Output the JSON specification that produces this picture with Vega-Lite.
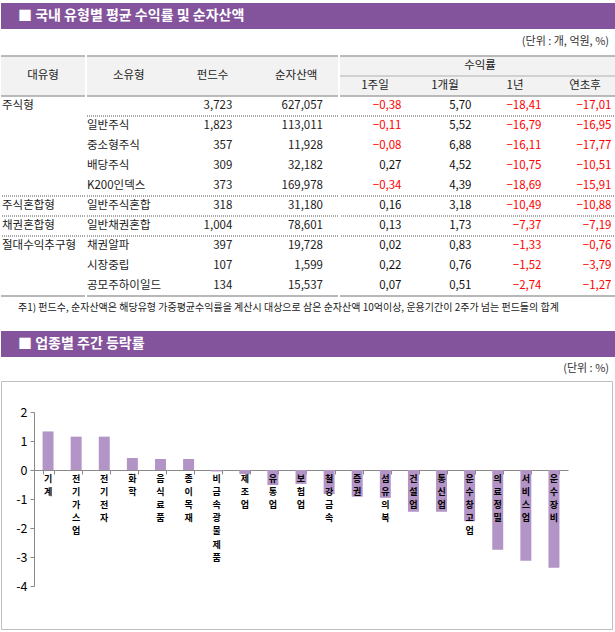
{
  "$schema": "https://vega.github.io/schema/vega-lite/v6.json",
  "background": "#ffffff",
  "padding": {"top": 3, "left": 0, "right": 0, "bottom": 0},
  "spacing": 0,
  "config": {
    "view": {"stroke": null},
    "font": "Noto Sans CJK KR",
    "text": {"font": "Noto Sans CJK KR", "fontSize": 11.5, "color": "#222222"},
    "axis": {"labelFont": "Noto Sans CJK KR"}
  },
  "datasets": {
    "table": [
      {"row": "r1", "대유형": "주식형", "소유형": "", "펀드수": 3723, "순자산액": 627057, "1주일": -0.38, "1개월": 5.70, "1년": -18.41, "연초후": -17.01},
      {"row": "r2", "대유형": "", "소유형": "일반주식", "펀드수": 1823, "순자산액": 113011, "1주일": -0.11, "1개월": 5.52, "1년": -16.79, "연초후": -16.95},
      {"row": "r3", "대유형": "", "소유형": "중소형주식", "펀드수": 357, "순자산액": 11928, "1주일": -0.08, "1개월": 6.88, "1년": -16.11, "연초후": -17.77},
      {"row": "r4", "대유형": "", "소유형": "배당주식", "펀드수": 309, "순자산액": 32182, "1주일": 0.27, "1개월": 4.52, "1년": -10.75, "연초후": -10.51},
      {"row": "r5", "대유형": "", "소유형": "K200인덱스", "펀드수": 373, "순자산액": 169978, "1주일": -0.34, "1개월": 4.39, "1년": -18.69, "연초후": -15.91},
      {"row": "r6", "대유형": "주식혼합형", "소유형": "일반주식혼합", "펀드수": 318, "순자산액": 31180, "1주일": 0.16, "1개월": 3.18, "1년": -10.49, "연초후": -10.88},
      {"row": "r7", "대유형": "채권혼합형", "소유형": "일반채권혼합", "펀드수": 1004, "순자산액": 78601, "1주일": 0.13, "1개월": 1.73, "1년": -7.37, "연초후": -7.19},
      {"row": "r8", "대유형": "절대수익추구형", "소유형": "채권알파", "펀드수": 397, "순자산액": 19728, "1주일": 0.02, "1개월": 0.83, "1년": -1.33, "연초후": -0.76},
      {"row": "r9", "대유형": "", "소유형": "시장중립", "펀드수": 107, "순자산액": 1599, "1주일": 0.22, "1개월": 0.76, "1년": -1.52, "연초후": -3.79},
      {"row": "r10", "대유형": "", "소유형": "공모주하이일드", "펀드수": 134, "순자산액": 15537, "1주일": 0.07, "1개월": 0.51, "1년": -2.74, "연초후": -1.27}
    ],
    "headBg": [{"row": "h1"}, {"row": "h2"}],
    "sectors": [
      {"업종": "기 계", "등락률": 1.33},
      {"업종": "전기가스업", "등락률": 1.15},
      {"업종": "전기전자", "등락률": 1.15},
      {"업종": "화 학", "등락률": 0.41},
      {"업종": "음식료품", "등락률": 0.38},
      {"업종": "종이목재", "등락률": 0.38},
      {"업종": "비금속광물제품", "등락률": -0.05},
      {"업종": "제조업", "등락률": -0.14},
      {"업종": "유통업", "등락률": -0.52},
      {"업종": "보험업", "등락률": -0.48},
      {"업종": "철강금속", "등락률": -0.83},
      {"업종": "증 권", "등락률": -0.92},
      {"업종": "섬유의복", "등락률": -0.96},
      {"업종": "건설업", "등락률": -1.44},
      {"업종": "통신업", "등락률": -1.44},
      {"업종": "운수창고업", "등락률": -1.77},
      {"업종": "의료정밀", "등락률": -2.75},
      {"업종": "서비스업", "등락률": -3.13},
      {"업종": "운수장비", "등락률": -3.37}
    ]
  },
  "vconcat": [
    {
      "width": 615, "height": 26,
      "data": {"values": [{"heading": "■ 국내 유형별 평균 수익률 및 순자산액"}]},
      "encoding": {
        "x": {"field": "heading", "type": "nominal", "bandPosition": 0, "scale": {"type": "band", "paddingInner": 0, "paddingOuter": 0}, "axis": null}
      },
      "layer": [
        {"mark": {"type": "rect", "color": "#83539B"}},
        {"mark": {"type": "text", "align": "left", "baseline": "middle", "dx": 17, "color": "#ffffff", "fontWeight": "bold", "fontSize": 14},
         "encoding": {"text": {"field": "heading"}}}
      ]
    },
    {
      "width": 615, "height": 25.5,
      "data": {"values": [{"unit": "(단위 : 개, 억원, %)"}]},
      "mark": {"type": "text", "align": "right", "baseline": "middle", "dx": -7, "fontSize": 11, "color": "#333333"},
      "encoding": {
        "x": {"field": "unit", "type": "nominal", "bandPosition": 1, "scale": {"type": "band", "paddingInner": 0, "paddingOuter": 0}, "axis": null},
        "text": {"field": "unit"}
      }
    },
    {
      "hconcat": [
        {
          "width": 84, "height": 240,
          "layer": [
            {"data": {"name": "headBg"},
             "mark": {"type": "rect", "color": "#f2f2f2"},
             "encoding": {"y": {"field": "row", "type": "nominal", "scale": {"type": "band", "domain": ["h1", "h2", "r1", "r2", "r3", "r4", "r5", "r6", "r7", "r8", "r9", "r10"], "paddingInner": 0, "paddingOuter": 0}, "axis": null}}},
            {"data": {"values": [{"row": "r5"}, {"row": "r6"}, {"row": "r7"}]},
             "mark": {"type": "rule", "color": "#555555", "strokeDash": [1, 1], "strokeWidth": 1},
             "encoding": {"y": {"field": "row", "type": "nominal", "bandPosition": 1, "axis": null}}},
            {"data": {"values": [{"row": "h1"}, {"row": "r1"}]}, "mark": {"type": "rule", "color": "#a4a4a4", "strokeWidth": 1.5}, "encoding": {"y": {"field": "row", "type": "nominal", "bandPosition": 0, "axis": null}}},
            {"data": {"values": [{"row": "r10"}]}, "mark": {"type": "rule", "color": "#a0a0a0", "strokeWidth": 1.5}, "encoding": {"y": {"field": "row", "type": "nominal", "bandPosition": 1, "axis": null}}},
            {"data": {"values": [{"t": "대유형", "row": "h2"}]},
             "mark": {"type": "text", "color": "#222222"},
             "encoding": {"y": {"field": "row", "type": "nominal", "bandPosition": 0, "axis": null}, "text": {"field": "t"}}},
            {"data": {"name": "table"},
             "transform": [{"fold": ["대유형"], "as": ["col", "v"]}],
             "mark": {"type": "text", "align": "left", "dx": 1},
             "encoding": {
               "x": {"field": "col", "type": "nominal", "bandPosition": 0, "scale": {"type": "band", "domain": ["대유형"], "paddingInner": 0, "paddingOuter": 0}, "axis": null},
               "y": {"field": "row", "type": "nominal", "axis": null},
               "text": {"field": "v"}
             }}
          ]
        },
        {
          "width": 251, "height": 240,
          "layer": [
            {"data": {"name": "headBg"},
             "mark": {"type": "rect", "color": "#f2f2f2"},
             "encoding": {"y": {"field": "row", "type": "nominal", "scale": {"type": "band", "domain": ["h1", "h2", "r1", "r2", "r3", "r4", "r5", "r6", "r7", "r8", "r9", "r10"], "paddingInner": 0, "paddingOuter": 0}, "axis": null}}},
            {"data": {"values": [{"row": "r1"}, {"row": "r5"}, {"row": "r6"}, {"row": "r7"}]},
             "mark": {"type": "rule", "color": "#555555", "strokeDash": [1, 1], "strokeWidth": 1},
             "encoding": {"y": {"field": "row", "type": "nominal", "bandPosition": 1, "axis": null}}},
            {"data": {"values": [{"row": "h1"}, {"row": "r1"}]}, "mark": {"type": "rule", "color": "#a4a4a4", "strokeWidth": 1.5}, "encoding": {"y": {"field": "row", "type": "nominal", "bandPosition": 0, "axis": null}}},
            {"data": {"values": [{"row": "r10"}]}, "mark": {"type": "rule", "color": "#a0a0a0", "strokeWidth": 1.5}, "encoding": {"y": {"field": "row", "type": "nominal", "bandPosition": 1, "axis": null}}},
            {"data": {"values": [{"col": "소유형", "row": "h2"}, {"col": "펀드수", "row": "h2"}, {"col": "순자산액", "row": "h2"}]},
             "mark": {"type": "text", "color": "#222222"},
             "encoding": {
               "x": {"field": "col", "type": "nominal", "scale": {"type": "band", "domain": ["소유형", "펀드수", "순자산액"], "paddingInner": 0, "paddingOuter": 0}, "axis": null},
               "y": {"field": "row", "type": "nominal", "bandPosition": 0, "axis": null},
               "text": {"field": "col"}
             }},
            {"data": {"name": "table"},
             "transform": [{"fold": ["소유형"], "as": ["col", "v"]}],
             "mark": {"type": "text", "align": "left", "dx": 0},
             "encoding": {
               "x": {"field": "col", "type": "nominal", "bandPosition": 0, "axis": null},
               "y": {"field": "row", "type": "nominal", "axis": null},
               "text": {"field": "v"}
             }},
            {"data": {"name": "table"},
             "transform": [{"fold": ["펀드수"], "as": ["col", "v"]}],
             "mark": {"type": "text", "align": "right", "dx": -22},
             "encoding": {
               "x": {"field": "col", "type": "nominal", "bandPosition": 1, "axis": null},
               "y": {"field": "row", "type": "nominal", "axis": null},
               "text": {"field": "v", "type": "quantitative", "format": ","}
             }},
            {"data": {"name": "table"},
             "transform": [{"fold": ["순자산액"], "as": ["col", "v"]}],
             "mark": {"type": "text", "align": "right", "dx": -15},
             "encoding": {
               "x": {"field": "col", "type": "nominal", "bandPosition": 1, "axis": null},
               "y": {"field": "row", "type": "nominal", "axis": null},
               "text": {"field": "v", "type": "quantitative", "format": ","}
             }}
          ]
        },
        {
          "width": 280, "height": 240,
          "layer": [
            {"data": {"name": "headBg"},
             "mark": {"type": "rect", "color": "#f2f2f2"},
             "encoding": {"y": {"field": "row", "type": "nominal", "scale": {"type": "band", "domain": ["h1", "h2", "r1", "r2", "r3", "r4", "r5", "r6", "r7", "r8", "r9", "r10"], "paddingInner": 0, "paddingOuter": 0}, "axis": null}}},
            {"data": {"values": [{"row": "r1"}, {"row": "r5"}, {"row": "r6"}, {"row": "r7"}]},
             "mark": {"type": "rule", "color": "#555555", "strokeDash": [1, 1], "strokeWidth": 1},
             "encoding": {"y": {"field": "row", "type": "nominal", "bandPosition": 1, "axis": null}}},
            {"data": {"values": [{"row": "h1"}, {"row": "r1"}]}, "mark": {"type": "rule", "color": "#a4a4a4", "strokeWidth": 1.5}, "encoding": {"y": {"field": "row", "type": "nominal", "bandPosition": 0, "axis": null}}},
            {"data": {"values": [{"row": "h2"}]}, "mark": {"type": "rule", "color": "#b0b0b0", "strokeWidth": 1}, "encoding": {"y": {"field": "row", "type": "nominal", "bandPosition": 0, "axis": null}}},
            {"data": {"values": [{"row": "r10"}]}, "mark": {"type": "rule", "color": "#a0a0a0", "strokeWidth": 1.5}, "encoding": {"y": {"field": "row", "type": "nominal", "bandPosition": 1, "axis": null}}},
            {"data": {"values": [{"t": "수익률", "row": "h1"}]},
             "mark": {"type": "text", "color": "#222222"},
             "encoding": {"y": {"field": "row", "type": "nominal", "axis": null}, "text": {"field": "t"}}},
            {"data": {"values": [{"col": "1주일", "row": "h2"}, {"col": "1개월", "row": "h2"}, {"col": "1년", "row": "h2"}, {"col": "연초후", "row": "h2"}]},
             "mark": {"type": "text", "color": "#222222"},
             "encoding": {
               "x": {"field": "col", "type": "nominal", "scale": {"type": "band", "domain": ["1주일", "1개월", "1년", "연초후"], "paddingInner": 0, "paddingOuter": 0}, "axis": null},
               "y": {"field": "row", "type": "nominal", "axis": null},
               "text": {"field": "col"}
             }},
            {"data": {"name": "table"},
             "transform": [
               {"fold": ["1주일", "1개월", "1년", "연초후"], "as": ["col", "v"]},
               {"calculate": "replace(format(datum.v, '.2f'), '.', ',')", "as": "표시"}
             ],
             "mark": {"type": "text", "align": "right", "dx": -8.5},
             "encoding": {
               "x": {"field": "col", "type": "nominal", "bandPosition": 1, "axis": null},
               "y": {"field": "row", "type": "nominal", "axis": null},
               "text": {"field": "표시"},
               "color": {"condition": {"test": "datum.v < 0", "value": "#ff0000"}, "value": "#111111"}
             }}
          ]
        }
      ],
      "spacing": 0
    },
    {
      "width": 615, "height": 34,
      "data": {"values": [{"note": "주1) 펀드수, 순자산액은 해당유형 가중평균수익률을 계산시 대상으로 삼은 순자산액 10억이상, 운용기간이 2주가 넘는 펀드들의 합계"}]},
      "mark": {"type": "text", "align": "left", "baseline": "middle", "dx": 17, "fontSize": 10, "color": "#222222"},
      "encoding": {
        "x": {"field": "note", "type": "nominal", "bandPosition": 0, "scale": {"type": "band", "paddingInner": 0, "paddingOuter": 0}, "axis": null},
        "y": {"field": "note", "type": "nominal", "bandPosition": 0.32, "scale": {"type": "band", "paddingInner": 0, "paddingOuter": 0}, "axis": null},
        "text": {"field": "note"}
      }
    },
    {
      "width": 615, "height": 26,
      "data": {"values": [{"heading": "■ 업종별 주간 등락률"}]},
      "encoding": {
        "x": {"field": "heading", "type": "nominal", "bandPosition": 0, "scale": {"type": "band", "paddingInner": 0, "paddingOuter": 0}, "axis": null}
      },
      "layer": [
        {"mark": {"type": "rect", "color": "#83539B"}},
        {"mark": {"type": "text", "align": "left", "baseline": "middle", "dx": 17, "color": "#ffffff", "fontWeight": "bold", "fontSize": 14},
         "encoding": {"text": {"field": "heading"}}}
      ]
    },
    {
      "width": 615, "height": 23,
      "data": {"values": [{"unit": "(단위 : %)"}]},
      "mark": {"type": "text", "align": "right", "baseline": "middle", "dx": -7, "fontSize": 11, "color": "#333333"},
      "encoding": {
        "x": {"field": "unit", "type": "nominal", "bandPosition": 1, "scale": {"type": "band", "paddingInner": 0, "paddingOuter": 0}, "axis": null},
        "text": {"field": "unit"}
      }
    },
    {
      "width": 611, "height": 248,
      "view": {"stroke": "#bfbfbf", "strokeWidth": 1},
      "data": {"name": "sectors"},
      "transform": [{"calculate": "split(datum['업종'], '')", "as": "세로"}],
      "layer": [
        {"mark": {"type": "bar", "color": "#B394C6"},
         "encoding": {
           "x": {"field": "업종", "type": "nominal", "sort": null,
                 "scale": {"range": [33, 567], "paddingInner": 0.61, "paddingOuter": 0.305},
                 "axis": {"orient": "bottom", "offset": -159, "labels": false, "title": null, "tickBand": "extent", "tickSize": 4, "tickColor": "#898989", "domainColor": "#898989", "grid": false}},
           "y": {"field": "등락률", "type": "quantitative",
                 "scale": {"domain": [-4, 2], "range": [205, 31], "nice": false},
                 "axis": {"offset": -33, "values": [-4, -3, -2, -1, 0, 1, 2], "title": null, "grid": false, "tickSize": 4, "labelPadding": 3, "labelFontSize": 12.5, "labelColor": "#000000", "tickColor": "#898989", "domainColor": "#898989", "labelExpr": "'' + datum.value"}}
         }},
        {"mark": {"type": "text", "baseline": "top", "dy": 5, "fontSize": 9, "lineHeight": 13.1, "fontWeight": "bold", "color": "#000000"},
         "encoding": {
           "x": {"field": "업종", "type": "nominal", "sort": null},
           "y": {"datum": 0, "type": "quantitative"},
           "text": {"field": "세로"}
         }}
      ]
    }
  ]
}
